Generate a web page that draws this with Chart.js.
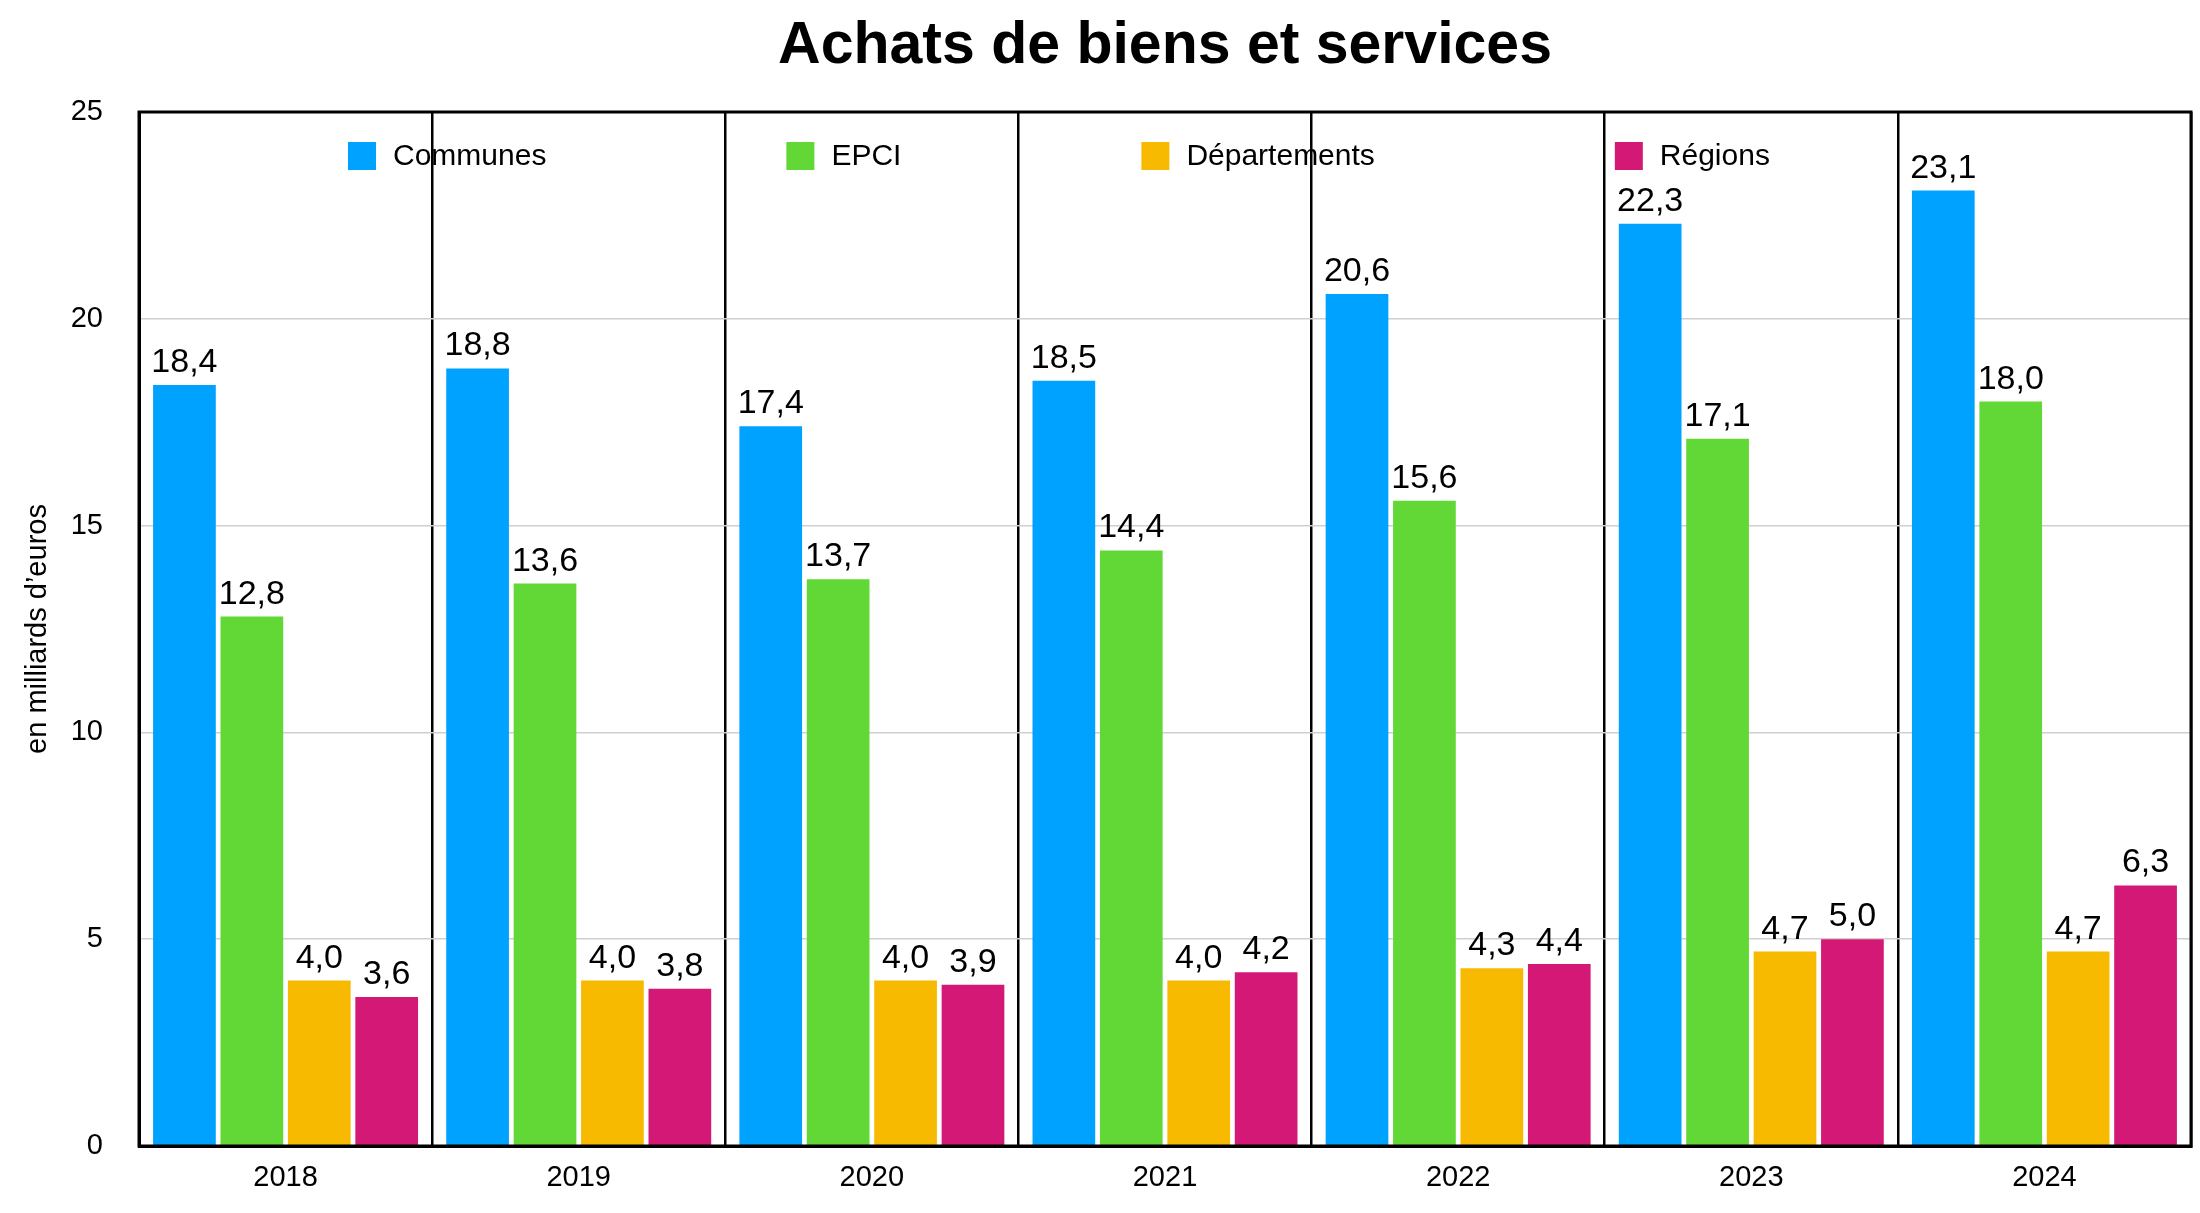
<!DOCTYPE html>
<html><head><meta charset="utf-8">
<script src="https://cdn.jsdelivr.net/npm/chart.js@4"></script>
<style>html,body{margin:0;padding:0;background:#fff}#wrap{width:2200px;height:1213px}</style>
</head><body><div id="wrap"><canvas id="c" width="2200" height="1213"></canvas></div>
<script>
const categories = ['2018','2019','2020','2021','2022','2023','2024'];
const communes = [18.4, 18.8, 17.4, 18.5, 20.6, 22.3, 23.1];
const epci = [12.8, 13.6, 13.7, 14.4, 15.6, 17.1, 18.0];
const departements = [4.0, 4.0, 4.0, 4.0, 4.3, 4.7, 4.7];
const regions = [3.6, 3.8, 3.9, 4.2, 4.4, 5.0, 6.3];
const seriesNames = ['Communes','EPCI','Départements','Régions'];
const colors = ['#00A2FF','#61D836','#F8BA00','#D31876'];
const titleText = 'Achats de biens et services';
const yTitle = 'en milliards d’euros';
const FONT = '"Liberation Sans", Arial, Helvetica, sans-serif';

const fmt = v => v.toFixed(1).replace('.', ',');

const framePlugin = {
  id: 'frame',
  afterDraw(chart) {
    const {ctx, chartArea: a} = chart;
    ctx.save();
    ctx.strokeStyle = '#000';
    ctx.lineWidth = 3;
    ctx.strokeRect(a.left, a.top, a.right - a.left, a.bottom - a.top);
    // title
    ctx.fillStyle = '#000';
    ctx.font = 'bold 59px ' + FONT;
    ctx.textAlign = 'center';
    ctx.textBaseline = 'middle';
    ctx.fillText(titleText, (a.left + a.right) / 2, 47);
    // legend
    ctx.font = '30px ' + FONT;
    ctx.textAlign = 'left';
    let x = a.left + 209;
    const y = 156;
    chart.data.datasets.forEach(ds => {
      ctx.fillStyle = ds.backgroundColor;
      ctx.fillRect(x, y - 14, 28, 28);
      ctx.fillStyle = '#000';
      ctx.fillText(ds.label, x + 45, y + 1);
      x += 45 + ctx.measureText(ds.label).width + 240;
    });
    ctx.restore();
  }
};

const labelPlugin = {
  id: 'valueLabels',
  afterDatasetsDraw(chart) {
    const {ctx} = chart;
    ctx.save();
    ctx.fillStyle = '#000';
    ctx.font = '34px ' + FONT;
    ctx.textAlign = 'center';
    ctx.textBaseline = 'alphabetic';
    chart.data.datasets.forEach((ds, i) => {
      chart.getDatasetMeta(i).data.forEach((bar, j) => {
        ctx.fillText(fmt(ds.data[j]), bar.x, bar.y - 13);
      });
    });
    ctx.restore();
  }
};

const seriesData = [communes, epci, departements, regions];
new Chart(document.getElementById('c'), {
  type: 'bar',
  data: {
    labels: categories,
    datasets: seriesData.map((d, i) => ({
      label: seriesNames[i],
      data: d,
      backgroundColor: colors[i],
      borderWidth: 0,
      categoryPercentage: 0.92,
      barPercentage: 0.93
    }))
  },
  options: {
    responsive: false,
    animation: false,
    devicePixelRatio: 1,
    layout: {padding: {top: 112, right: 9, left: 0, bottom: 0}},
    plugins: {legend: {display: false}, title: {display: false}, tooltip: {enabled: false}},
    scales: {
      x: {
        offset: true,
        grid: {offset: true, color: '#000', lineWidth: 2.5, drawTicks: false},
        border: {color: '#000', width: 3},
        ticks: {color: '#000', font: {family: FONT, size: 29}, padding: 15},
        afterFit(s) { s.height = 67; }
      },
      y: {
        min: 0, max: 25,
        ticks: {stepSize: 5, color: '#000', font: {family: FONT, size: 29}, padding: 36},
        grid: {color: '#cfcfcf', lineWidth: 1.5, drawTicks: false},
        border: {color: '#000', width: 3},
        title: {display: true, text: yTitle, color: '#000', font: {family: FONT, size: 29}, padding: {top: 21, bottom: 0}},
        afterFit(s) { s.width = 139; }
      }
    }
  },
  plugins: [framePlugin, labelPlugin]
});
</script></body></html>
